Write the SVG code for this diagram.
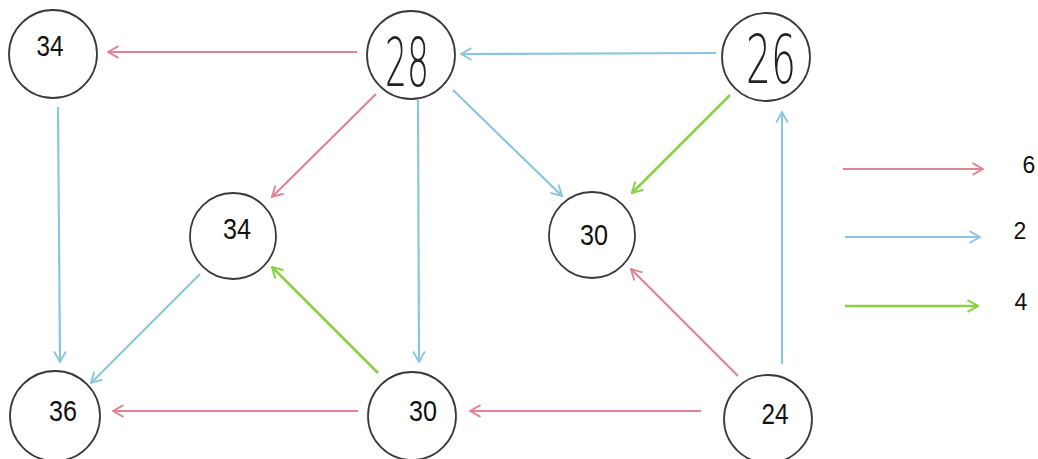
<svg xmlns="http://www.w3.org/2000/svg" width="1038" height="459" viewBox="0 0 1038 459">
<style>
.node circle{fill:#fff;stroke:#3a3a3a;stroke-width:1.8}
.lbl{font-family:"Liberation Sans",Arial,sans-serif;font-size:30px;fill:#111;text-anchor:middle}
.big{font-family:"DejaVu Sans",sans-serif;font-weight:200;font-size:68px;fill:#222;text-anchor:middle}
.leg{font-family:"Liberation Sans",Arial,sans-serif;font-size:23px;fill:#111;text-anchor:middle}
.r{stroke:#e08494;stroke-width:2.2;fill:none;marker-end:url(#ar)}
.b{stroke:#8cc6dc;stroke-width:2.2;fill:none;marker-end:url(#ab)}
.g{stroke:#8fcf45;stroke-width:2.6;fill:none;marker-end:url(#ag)}
</style>
<defs>
<marker id="ar" viewBox="0 0 12 12" refX="11" refY="6" markerWidth="14" markerHeight="14" markerUnits="userSpaceOnUse" orient="auto"><path d="M2,1 L11,6 L2,11" fill="none" stroke="#e08494" stroke-width="1.6"/></marker>
<marker id="ab" viewBox="0 0 12 12" refX="11" refY="6" markerWidth="14" markerHeight="14" markerUnits="userSpaceOnUse" orient="auto"><path d="M2,1 L11,6 L2,11" fill="none" stroke="#8cc6dc" stroke-width="1.6"/></marker>
<marker id="ag" viewBox="0 0 12 12" refX="11" refY="6" markerWidth="14" markerHeight="14" markerUnits="userSpaceOnUse" orient="auto"><path d="M2,1 L11,6 L2,11" fill="none" stroke="#8fcf45" stroke-width="1.8"/></marker>
</defs>
<rect width="1038" height="459" fill="#fff"/>
<g id="connectors">
<line class="r" x1="357" y1="52" x2="108" y2="52"/>
<line class="b" x1="716" y1="53" x2="461" y2="54"/>
<line class="b" x1="58" y1="107" x2="60" y2="362"/>
<line class="r" x1="376" y1="94" x2="272" y2="197"/>
<line class="b" x1="418" y1="100" x2="419" y2="362"/>
<line class="b" x1="453" y1="90" x2="562" y2="196"/>
<line class="g" x1="730" y1="95" x2="632" y2="193"/>
<line class="b" x1="200" y1="274" x2="91" y2="383"/>
<line class="g" x1="378" y1="373" x2="272" y2="267"/>
<line class="r" x1="358" y1="411" x2="113" y2="411"/>
<line class="r" x1="701" y1="411" x2="470" y2="411"/>
<line class="r" x1="738" y1="376" x2="631" y2="269"/>
<line class="b" x1="782" y1="364" x2="782" y2="112"/>
</g>
<g id="legend">
<line class="r" x1="843" y1="169" x2="983" y2="169"/>
<line class="b" x1="845" y1="237" x2="980" y2="237"/>
<line class="g" x1="845" y1="306" x2="978" y2="306"/>
<text class="leg" x="1029" y="173">6</text>
<text class="leg" x="1020" y="239">2</text>
<text class="leg" x="1021" y="310">4</text>
</g>
<g id="n34a" class="node"><circle cx="53" cy="54" r="44"/><text class="lbl" x="50" y="56" textLength="27" lengthAdjust="spacingAndGlyphs">34</text></g>
<g id="n28" class="node"><circle cx="411" cy="55" r="44"/><text class="big" x="407" y="86" textLength="44" lengthAdjust="spacingAndGlyphs">28</text></g>
<g id="n26" class="node"><circle cx="766" cy="57" r="44"/><text class="big" x="771" y="83" textLength="50" lengthAdjust="spacingAndGlyphs">26</text></g>
<g id="n34b" class="node"><circle cx="233" cy="236" r="43"/><text class="lbl" x="237" y="239" textLength="28" lengthAdjust="spacingAndGlyphs">34</text></g>
<g id="n30a" class="node"><circle cx="592" cy="235" r="43"/><text class="lbl" x="594" y="245" textLength="28" lengthAdjust="spacingAndGlyphs">30</text></g>
<g id="n36" class="node"><circle cx="55" cy="416" r="45"/><text class="lbl" x="63" y="421" textLength="28" lengthAdjust="spacingAndGlyphs">36</text></g>
<g id="n30b" class="node"><circle cx="412" cy="416" r="44"/><text class="lbl" x="423" y="421" textLength="28" lengthAdjust="spacingAndGlyphs">30</text></g>
<g id="n24" class="node"><circle cx="768" cy="419" r="44"/><text class="lbl" x="775" y="424" textLength="27" lengthAdjust="spacingAndGlyphs">24</text></g>
</svg>
